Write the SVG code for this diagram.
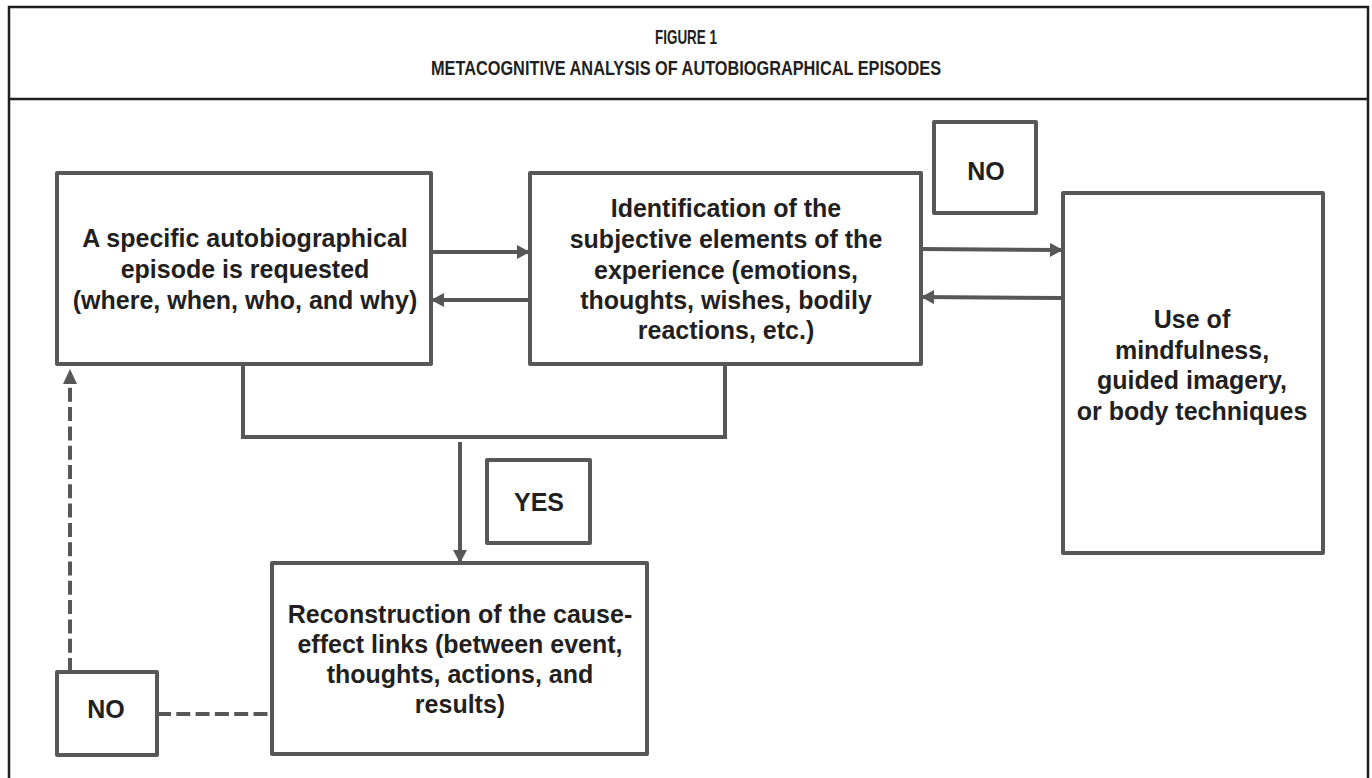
<svg xmlns="http://www.w3.org/2000/svg" width="1372" height="778" viewBox="0 0 1372 778">
  <style>
    .frame { fill: none; stroke: #231f20; stroke-width: 2.5; }
    .box { fill: #ffffff; stroke: #575757; stroke-width: 4; stroke-linejoin: round; }
    .conn { fill: none; stroke: #575757; stroke-width: 4; }
    .dash { fill: none; stroke: #575757; stroke-width: 4; stroke-dasharray: 14 5.3; }
    .t { font-family: "Liberation Sans", Arial, sans-serif; font-weight: bold; font-size: 25px; fill: #231f20; text-anchor: middle; }
    .title { font-family: "Liberation Sans Narrow", "Liberation Sans", Arial, sans-serif; font-weight: bold; font-size: 20px; fill: #231f20; text-anchor: middle; }
  </style>
  <defs>
    <marker id="arrow" viewBox="0 0 13 14" refX="13" refY="7" markerWidth="13" markerHeight="14" markerUnits="userSpaceOnUse" orient="auto">
      <path d="M0,0 L13,7 L0,14 Z" fill="#575757"/>
    </marker>
  </defs>
  <rect width="1372" height="778" fill="#ffffff"/>

  <g id="frame">
    <path class="frame" d="M9,778 V7 H1368 V778"/>
    <line class="frame" x1="9" y1="99" x2="1368" y2="99" stroke-width="3"/>
    <text class="title" x="686" y="44" textLength="62" lengthAdjust="spacingAndGlyphs">FIGURE 1</text>
    <text class="title" x="686" y="75" textLength="510" lengthAdjust="spacingAndGlyphs">METACOGNITIVE ANALYSIS OF AUTOBIOGRAPHICAL EPISODES</text>
  </g>

  <g id="connectors">
    <line class="conn" x1="431" y1="252" x2="530" y2="252" marker-end="url(#arrow)"/>
    <line class="conn" x1="530" y1="300" x2="431" y2="300" marker-end="url(#arrow)"/>
    <line class="conn" x1="921" y1="249" x2="1063" y2="250" marker-end="url(#arrow)"/>
    <line class="conn" x1="1063" y1="298" x2="921" y2="297" marker-end="url(#arrow)"/>
    <path class="conn" d="M243,364 V437 H725 V364"/>
    <line class="conn" x1="460" y1="442" x2="460" y2="563" marker-end="url(#arrow)"/>
    <line class="dash" x1="70" y1="672" x2="70" y2="384"/>
    <path d="M63,384 L70,369 L77,384 Z" fill="#575757"/>
    <line class="dash" x1="157" y1="714" x2="272" y2="714"/>
  </g>

  <g id="node-episode">
    <rect class="box" x="57" y="173" width="374" height="191"/>
    <text class="t" x="245" y="247">A specific autobiographical</text>
    <text class="t" x="245" y="278">episode is requested</text>
    <text class="t" x="245" y="309">(where, when, who, and why)</text>
  </g>

  <g id="node-identification">
    <rect class="box" x="530" y="173" width="391" height="191"/>
    <text class="t" x="726" y="217">Identification of the</text>
    <text class="t" x="726" y="248">subjective elements of the</text>
    <text class="t" x="726" y="279">experience (emotions,</text>
    <text class="t" x="726" y="309">thoughts, wishes, bodily</text>
    <text class="t" x="726" y="339">reactions, etc.)</text>
  </g>

  <g id="node-no-top">
    <rect class="box" x="934" y="122" width="102" height="91"/>
    <text class="t" x="986" y="180">NO</text>
  </g>

  <g id="node-mindfulness">
    <rect class="box" x="1063" y="193" width="260" height="360"/>
    <text class="t" x="1192" y="328">Use of</text>
    <text class="t" x="1192" y="359">mindfulness,</text>
    <text class="t" x="1192" y="389">guided imagery,</text>
    <text class="t" x="1192" y="420">or body techniques</text>
  </g>

  <g id="node-yes">
    <rect class="box" x="487" y="460" width="103" height="83"/>
    <text class="t" x="539" y="511">YES</text>
  </g>

  <g id="node-reconstruction">
    <rect class="box" x="272" y="563" width="375" height="191"/>
    <text class="t" x="460" y="623">Reconstruction of the cause-</text>
    <text class="t" x="460" y="653">effect links (between event,</text>
    <text class="t" x="460" y="683">thoughts, actions, and</text>
    <text class="t" x="460" y="713">results)</text>
  </g>

  <g id="node-no-bottom">
    <rect class="box" x="57" y="672" width="100" height="83"/>
    <text class="t" x="106" y="718">NO</text>
  </g>
</svg>
